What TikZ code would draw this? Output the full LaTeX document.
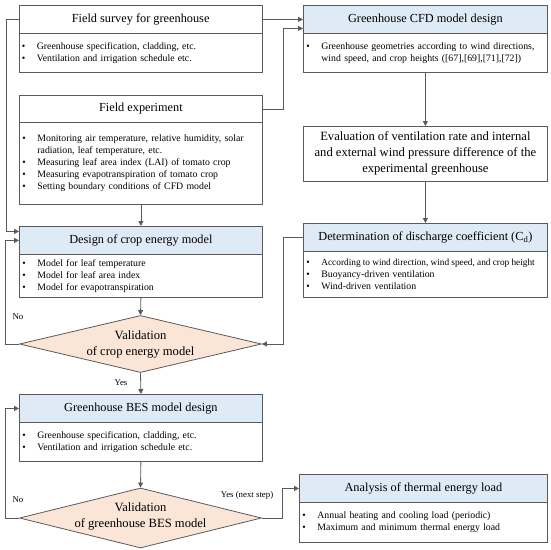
\documentclass[tikz,border=0pt]{standalone}
\usepackage{fontspec}
\setmainfont{Liberation Serif}
\usetikzlibrary{arrows.meta,shapes.geometric,calc}
\definecolor{hdr}{HTML}{DEEBF7}
\definecolor{dia}{HTML}{FBE5D6}
\definecolor{ln}{HTML}{5A5A5A}
\newcommand\myb{\makebox[15pt][l]{\textbullet}}
\newcommand\myi{\hspace*{15pt}}
\newcommand\mybodyfont{\fontsize{9.8}{12}\selectfont\spaceskip=3.4pt plus 1pt minus 0.5pt\relax}
\tikzset{
 box/.style={draw=ln, line width=0.8pt, anchor=north west, inner sep=0pt, align=center},
 hbox/.style={box, fill=hdr, font=\fontsize{12.3}{14}\selectfont},
 wbox/.style={box, fill=white, font=\fontsize{12.3}{14}\selectfont},
 bbox/.style={box, fill=white, font=\mybodyfont, align=left, inner xsep=3pt},
 dbox/.style={draw=ln, line width=0.8pt, fill=dia, shape=diamond, inner sep=0pt},
 dtext/.style={font=\fontsize{12.6}{16}\selectfont, align=center, inner sep=0pt},
 conn/.style={draw=ln, line width=0.8pt},
 arr/.style={conn, -{Triangle[length=5pt,width=5pt]}},
 lbl/.style={font=\fontsize{8.8}{10}\selectfont, inner sep=0pt},
}
\begin{document}
\begin{tikzpicture}[x=1pt,y=-1pt]
\useasboundingbox (0,0) rectangle (550,550);
% left column
\node[wbox, minimum width=243.5pt, minimum height=28pt] (sh) at (18.5,5) {Field survey for greenhouse};
\node[bbox, text width=237.5pt, minimum height=39pt] (sb) at (18.5,33) {\myb Greenhouse specification, cladding, etc.\\\myb Ventilation and irrigation schedule etc.};
\node[wbox, minimum width=243pt, minimum height=27pt] (eh) at (19,95) {Field experiment};
\node[bbox, text width=237pt, minimum height=82pt] (eb) at (19,122) {\myb Monitoring air temperature, relative humidity, solar\\\myi radiation, leaf temperature, etc.\\\myb Measuring leaf area index (LAI) of tomato crop\\\myb Measuring evapotranspiration of tomato crop\\\myb Setting boundary conditions of CFD model};
\node[hbox, minimum width=243pt, minimum height=28pt] (dh) at (19,226) {Design of crop energy model};
\node[bbox, text width=237pt, minimum height=43pt] (db) at (19,254) {\myb Model for leaf temperature\\\myb Model for leaf area index\\\myb Model for evapotranspiration};
\node[dbox, minimum width=242pt, minimum height=57pt] (d1) at (140.5,344) {};
\node[dtext] (d1t) at (140.5,344) {Validation\\of crop energy model};
\node[hbox, minimum width=243pt, minimum height=28pt] (bh) at (19,394) {Greenhouse BES model design};
\node[bbox, text width=237pt, minimum height=39pt] (bb) at (19,422) {\myb Greenhouse specification, cladding, etc.\\\myb Ventilation and irrigation schedule etc.};
\node[dbox, minimum width=242pt, minimum height=60pt] (d2) at (140.5,518) {};
\node[dtext] (d2t) at (140.5,516) {Validation\\of greenhouse BES model};
% right column
\node[hbox, minimum width=244pt, minimum height=28pt] (ch) at (303,5) {Greenhouse CFD model design};
\node[bbox, text width=238pt, minimum height=39pt] (cb) at (303,33) {\myb Greenhouse geometries according to wind directions,\\\myi wind speed, and crop heights ([67],[69],[71],[72])};
\node[wbox, minimum width=244pt, minimum height=55pt, font=\fontsize{12.6}{16}\selectfont] (ev) at (303,126) {Evaluation of ventilation rate and internal\\and external wind pressure difference of the\\experimental greenhouse};
\node[hbox, minimum width=244pt, minimum height=28pt] (th) at (303,223) {Determination of discharge coefficient (C\textsubscript{d})};
\node[bbox, text width=238pt, minimum height=46pt] (tb) at (303,251) {\myb\mbox{\fontsize{9.3}{12}\selectfont\spaceskip=2.2pt plus 0.5pt\relax According to wind direction, wind speed, and crop height}\\\myb Buoyancy-driven ventilation\\\myb Wind-driven ventilation};
\node[hbox, minimum width=248pt, minimum height=28pt] (ah) at (299,474) {Analysis of thermal energy load};
\node[bbox, text width=242pt, minimum height=40pt] (ab) at (299,502) {\myb Annual heating and cooling load (periodic)\\\myb Maximum and minimum thermal energy load};
% connectors
\draw[arr] (sh.west) -- ++(-12.5,0) |- ([yshift=9pt]dh.west);
\draw[arr] (sh.east) -- (sh.east -| ch.west);
\draw[arr] (eh.east) -- ++(21,0) |- ([yshift=-9pt]ch.west);
\draw[arr] (eb.south) -- (dh.north);
\draw[arr] (db.south) -- (d1.north);
\draw[arr] (d1.south) -- (bh.north);
\draw[arr] (d1.west) -- ++(-14,0) |- (dh.west);
\draw[arr] (cb.south) -- (ev.north);
\draw[arr] (ev.south) -- (th.north);
\draw[arr] (th.west) -- ++(-20,0) |- (d1.east);
\draw[arr] (bb.south) -- (d2.north);
\draw[arr] (d2.west) -- ++(-14,0) |- (bh.west);
\draw[arr] (d2.east) -- ++(20.5,0) |- (ah.west);
% labels
\node[lbl] (no1) at (18,317) {No};
\node[lbl] (yes1) at (121,383) {Yes};
\node[lbl] (no2) at (18,500) {No};
\node[lbl] (yes2) at (247,495) {Yes (next step)};
\end{tikzpicture}
\end{document}
